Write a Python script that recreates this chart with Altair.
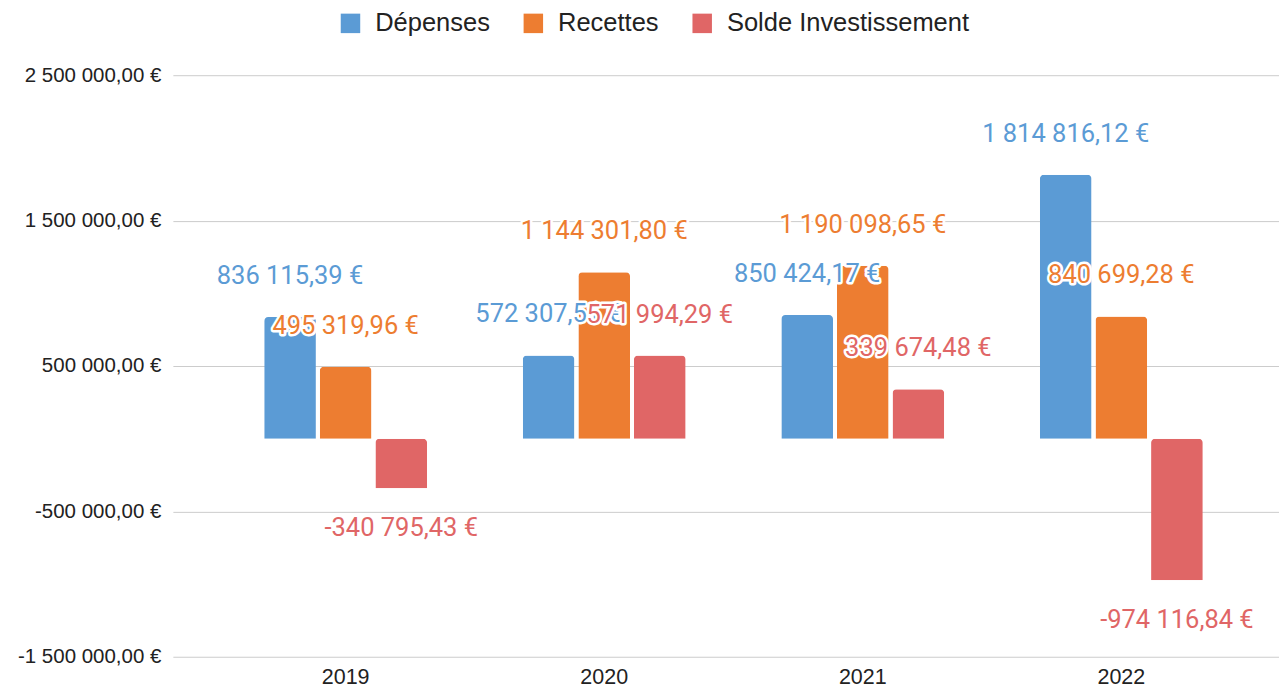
import altair as alt
import pandas as pd

years = ["2019", "2020", "2021", "2022"]
series = ["Dépenses", "Recettes", "Solde Investissement"]
depenses = [836115.39, 572307.51, 850424.17, 1814816.12]
recettes = [495319.96, 1144301.80, 1190098.65, 840699.28]
solde = [-340795.43, 571994.29, 339674.48, -974116.84]
colors = ["#5B9BD5", "#ED7D31", "#E06666"]
y_ticks = [-1500000, -500000, 500000, 1500000, 2500000]

rows = []
for i, y in enumerate(years):
    for s, vals in zip(series, [depenses, recettes, solde]):
        rows.append({"year": y, "series": s, "value": vals[i]})
df = pd.DataFrame(rows)

W, H = 1107, 582

fmt = ("(datum.value < 0 ? '-' : '') + replace(replace(format(abs(datum.value), ',.2f'), "
       "regexp(',', 'g'), ' '), '.', ',') + ' €'")

x_enc = alt.X("year:N", sort=years, title=None,
              scale=alt.Scale(paddingInner=0.37, paddingOuter=0.324, align=0.545),
              axis=alt.Axis(labelAngle=0, labelFontSize=21.5, labelFont="Liberation Sans",
                            labelColor="#222222", domain=False, ticks=False, labelPadding=10))
xo_enc = alt.XOffset("series:N", sort=series,
                     scale=alt.Scale(domain=series, paddingInner=0.07, paddingOuter=0))
y_enc = alt.Y("value:Q", title=None,
              scale=alt.Scale(domain=[-1500000, 2500000], nice=False, zero=False),
              axis=alt.Axis(values=y_ticks, labelExpr=fmt, labelFontSize=20.5,
                            labelFont="Liberation Sans", labelColor="#222222",
                            domain=False, ticks=False, labelPadding=12,
                            gridColor="#cccccc", gridWidth=1))
color_enc = alt.Color("series:N", sort=series,
                      scale=alt.Scale(domain=series, range=colors),
                      legend=alt.Legend(title=None, orient="none", direction="horizontal",
                                        legendX=165, legendY=-65, symbolType="square",
                                        symbolSize=380, symbolStrokeWidth=0,
                                        labelFontSize=25.5, labelFont="Liberation Sans",
                                        labelColor="#222222", labelOffset=12,
                                        labelLimit=0, columnPadding=30, symbolOpacity=1))

base = alt.Chart(df)
bars = base.mark_bar(cornerRadiusEnd=4).encode(x=x_enc, xOffset=xo_enc, y=y_enc, color=color_enc)

layers = [bars]
for s, c in zip(series, colors):
    for cond, dy in [("datum.value >= 0", -41), ("datum.value < 0", 40)]:
        sub = base.transform_filter(f"datum.series === '{s}'").transform_filter(cond)\
            .transform_calculate(label=fmt)
        halo = sub.mark_text(font="Roboto", fontSize=25.5, dy=dy, baseline="middle",
                             stroke="white", strokeWidth=5, strokeJoin="round",
                             fill="white").encode(x=x_enc, xOffset=xo_enc, y=y_enc,
                                                  text="label:N")
        txt = sub.mark_text(font="Roboto", fontSize=25.5, dy=dy, baseline="middle",
                            fill=c).encode(x=x_enc, xOffset=xo_enc, y=y_enc,
                                           text="label:N")
        layers += [halo, txt]

chart = alt.layer(*layers).properties(
    width=W, height=H,
    padding={"left": 9, "top": 2, "right": 0, "bottom": 0},
).configure_view(stroke=None)

chart.save("out.html", embed_options={"renderer": "svg", "actions": False})
